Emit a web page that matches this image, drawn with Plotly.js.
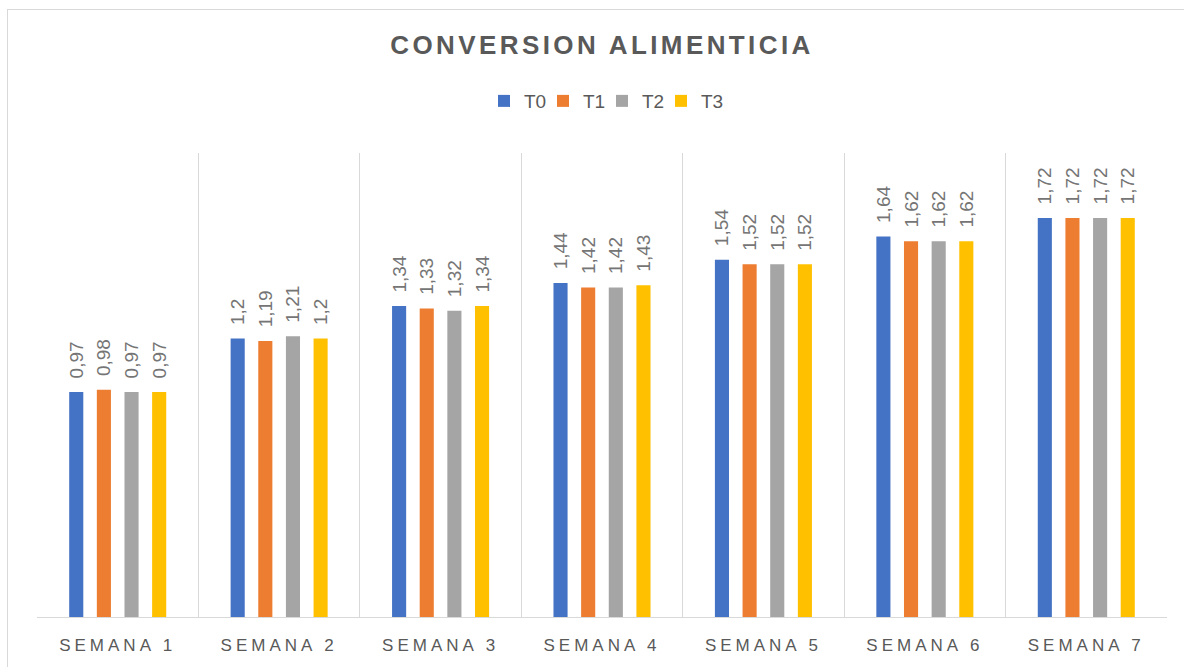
<!DOCTYPE html>
<html>
<head>
<meta charset="utf-8">
<script src="https://cdn.plot.ly/plotly-3.0.1.min.js"></script>
<style>
  html, body { margin: 0; padding: 0; background: #fff; }
  #wrap { position: relative; width: 1184px; height: 667px; overflow: hidden; }
  #chart { width: 1184px; height: 667px; }
  #frame { position: absolute; left: 7px; top: 9px; width: 1250px; height: 720px;
           border: 1px solid #d9d9d9; pointer-events: none; box-sizing: border-box; }
  .gtitle { letter-spacing: 3.4px; }
  .xtick text { letter-spacing: 4px; }
  .legend .scrollbox { clip-path: none !important; }
</style>
</head>
<body>
<div id="wrap">
  <div id="chart"></div>
  <div id="frame"></div>
</div>
<script>
const categories = ["SEMANA 1", "SEMANA 2", "SEMANA 3", "SEMANA 4", "SEMANA 5", "SEMANA 6", "SEMANA 7"];
const seriesNames = ["T0", "T1", "T2", "T3"];
const t0 = [0.97, 1.2, 1.34, 1.44, 1.54, 1.64, 1.72];
const t1 = [0.98, 1.19, 1.33, 1.42, 1.52, 1.62, 1.72];
const t2 = [0.97, 1.21, 1.32, 1.42, 1.52, 1.62, 1.72];
const t3 = [0.97, 1.2, 1.34, 1.43, 1.52, 1.62, 1.72];
const colors = ["#4472C4", "#ED7D31", "#A5A5A5", "#FFC000"];

const allSeries = [t0, t1, t2, t3];
const pad = "\u00a0\u00a0";
const traces = allSeries.map((vals, i) => ({
  type: "bar",
  name: seriesNames[i],
  x: categories,
  y: vals,
  marker: { color: colors[i] },
  text: vals.map(v => pad + String(v).replace(".", ",")),
  textposition: "outside",
  textangle: -90,
  constraintext: "none",
  cliponaxis: false,
  textfont: { family: "Liberation Sans, Arial, sans-serif", size: 19, color: "#757575" },
  hoverinfo: "x+y"
}));

const layout = {
  width: 1184,
  height: 667,
  margin: { l: 37, r: 17, t: 153, b: 50 },
  paper_bgcolor: "#ffffff",
  plot_bgcolor: "#ffffff",
  barmode: "group",
  bargap: 0.315,
  bargroupgap: 0.49,
  showlegend: true,
  title: {
    text: "<b>CONVERSION ALIMENTICIA</b>",
    x: 0.5, xanchor: "center", xref: "paper",
    y: 1 - 45 / 667, yanchor: "middle",
    yref: "container",
    font: { family: "Liberation Sans, Arial, sans-serif", size: 26, color: "#595959" }
  },
  legend: {
    orientation: "h",
    x: 0.5, xanchor: "center",
    y: 1.112, yanchor: "middle",
    font: { family: "Liberation Sans, Arial, sans-serif", size: 19, color: "#595959" },
    itemwidth: 30,
    entrywidth: 14,
    entrywidthmode: "pixels",
    traceorder: "normal"
  },
  xaxis: {
    type: "category",
    tickson: "boundaries",
    showgrid: true,
    gridcolor: "#d9d9d9",
    gridwidth: 1,
    showline: true,
    linecolor: "#d9d9d9",
    linewidth: 1,
    mirror: false,
    ticks: "",
    ticklabelstandoff: 13,
    tickfont: { family: "Liberation Sans, Arial, sans-serif", size: 17, color: "#595959" },
    fixedrange: true
  },
  yaxis: {
    range: [0, 2],
    showgrid: false,
    zeroline: false,
    showline: false,
    showticklabels: false,
    ticks: "",
    fixedrange: true
  }
};

Plotly.newPlot("chart", traces, layout, { displayModeBar: false, staticPlot: true });
</script>
</body>
</html>
